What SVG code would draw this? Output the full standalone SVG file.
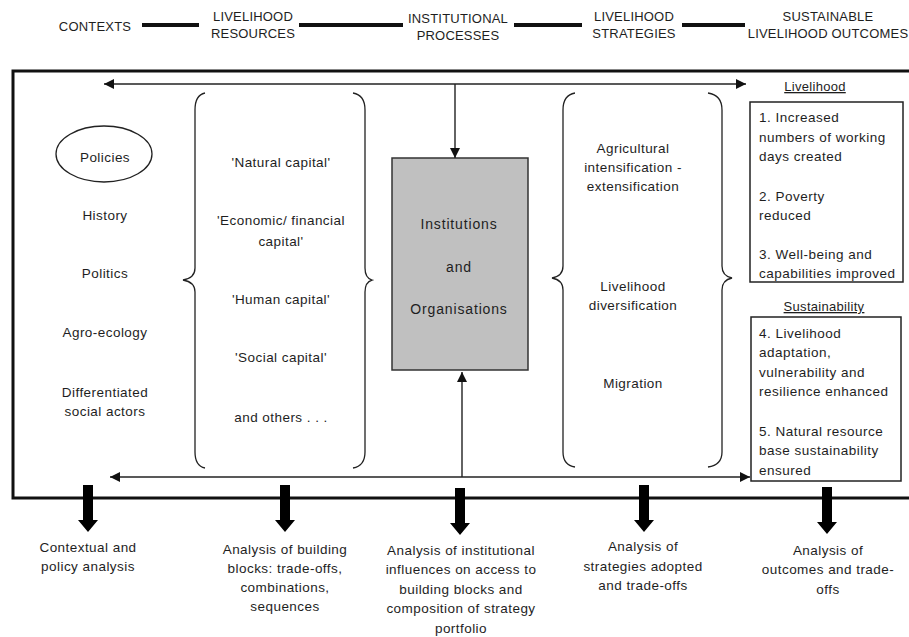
<svg xmlns="http://www.w3.org/2000/svg" xmlns:xlink="http://www.w3.org/1999/xlink" width="909" height="637" viewBox="0 0 909 637">
<style>
text{font-family:"Liberation Sans",Arial,sans-serif;fill:#1e1e1e;}
.h{font-size:13px;text-anchor:middle;letter-spacing:0.2px;}
.t{font-size:13.5px;text-anchor:middle;letter-spacing:0.45px;}
.b{font-size:13.5px;letter-spacing:0.5px;}
.u{font-size:13px;text-anchor:middle;text-decoration:underline;letter-spacing:0.3px;}
.i{font-size:14px;text-anchor:middle;letter-spacing:0.85px;}
.thin{stroke:#222;stroke-width:1.4;fill:none;}
.brace{stroke:#222;stroke-width:1.3;fill:none;}
.box{stroke:#222;stroke-width:1.5;fill:#fff;}
.bar{fill:#111;}
.big{fill:#000;}
</style>
<defs>
<marker id="ah" markerUnits="userSpaceOnUse" markerWidth="10" markerHeight="10" refX="10" refY="5" orient="auto-start-reverse">
<path d="M0,0 L10,5 L0,10 Z" fill="#111"/>
</marker>
<path id="bigArrow" d="M-5,0 H5 V35 H10 L0,47 L-10,35 H-5 Z"/>
</defs>
<rect width="909" height="637" fill="#fff"/>

<g id="header">
<text class="h" x="95" y="31">CONTEXTS</text>
<rect class="bar" x="142" y="23" width="57" height="4"/>
<text class="h" x="253" y="21">LIVELIHOOD</text>
<text class="h" x="253" y="38">RESOURCES</text>
<rect class="bar" x="299" y="23" width="104" height="4"/>
<text class="h" x="458" y="23">INSTITUTIONAL</text>
<text class="h" x="458" y="40">PROCESSES</text>
<rect class="bar" x="514" y="23" width="68" height="4"/>
<text class="h" x="634" y="21">LIVELIHOOD</text>
<text class="h" x="634" y="38">STRATEGIES</text>
<rect class="bar" x="682" y="23" width="63" height="4"/>
<text class="h" x="828" y="21">SUSTAINABLE</text>
<text class="h" x="828" y="38">LIVELIHOOD OUTCOMES</text>
</g>

<g id="frame">
<rect x="13" y="71" width="910" height="427" fill="none" stroke="#111" stroke-width="3"/>
</g>

<g id="contexts">
<ellipse cx="104" cy="154" rx="48" ry="28" fill="none" stroke="#222" stroke-width="1.3"/>
<text class="t" x="105" y="162">Policies</text>
<text class="t" x="105" y="220">History</text>
<text class="t" x="105" y="278">Politics</text>
<text class="t" x="105" y="337">Agro-ecology</text>
<text class="t" x="105" y="397">Differentiated</text>
<text class="t" x="105" y="416">social actors</text>
</g>

<g id="resources">
<path class="brace" d="M205,93 Q195,95 195,110 L195,268 Q195,278 183,280 Q195,282 195,292 L195,452 Q195,466 205,468"/>
<path class="brace" d="M353,93 Q365,95 365,110 L365,268 Q365,278 372,280 Q365,282 365,292 L365,452 Q365,466 353,468"/>
<text class="t" x="281" y="167">'Natural capital'</text>
<text class="t" x="281" y="225">'Economic/ financial</text>
<text class="t" x="281" y="246">capital'</text>
<text class="t" x="281" y="304">'Human capital'</text>
<text class="t" x="281" y="362">'Social capital'</text>
<text class="t" x="281" y="422">and others . . .</text>
</g>

<g id="institutions">
<rect x="392" y="158" width="136" height="212" fill="#c0c0c0" stroke="#333" stroke-width="1.5"/>
<text class="i" x="459" y="229">Institutions</text>
<text class="i" x="459" y="272">and</text>
<text class="i" x="459" y="314">Organisations</text>
</g>

<g id="strategies">
<path class="brace" d="M575,93 Q563,95 563,110 L563,266 Q563,276 552,278 Q563,280 563,290 L563,452 Q563,465 575,467"/>
<path class="brace" d="M708,93 Q722,95 722,110 L722,266 Q722,276 732,278 Q722,280 722,290 L722,452 Q722,465 708,467"/>
<text class="t" x="633" y="153">Agricultural</text>
<text class="t" x="633" y="172">intensification -</text>
<text class="t" x="633" y="191">extensification</text>
<text class="t" x="633" y="291">Livelihood</text>
<text class="t" x="633" y="310">diversification</text>
<text class="t" x="633" y="388">Migration</text>
</g>

<g id="outcomes-livelihood">
<text class="u" x="815" y="91">Livelihood</text>
<rect class="box" x="750" y="102" width="153" height="180"/>
<text class="b" x="759" y="122">1.  Increased</text>
<text class="b" x="759" y="142">numbers of working</text>
<text class="b" x="759" y="161">days created</text>
<text class="b" x="759" y="201">2.  Poverty</text>
<text class="b" x="759" y="220">reduced</text>
<text class="b" x="759" y="259">3.  Well-being and</text>
<text class="b" x="759" y="278">capabilities improved</text>
</g>

<g id="outcomes-sustainability">
<text class="u" x="824" y="311">Sustainability</text>
<rect class="box" x="751" y="317" width="150" height="164"/>
<text class="b" x="759" y="338">4.  Livelihood</text>
<text class="b" x="759" y="357">adaptation,</text>
<text class="b" x="759" y="377">vulnerability and</text>
<text class="b" x="759" y="396">resilience enhanced</text>
<text class="b" x="759" y="436">5.  Natural resource</text>
<text class="b" x="759" y="455">base sustainability</text>
<text class="b" x="759" y="475">ensured</text>
</g>

<g id="connectors">
<line class="thin" x1="104" y1="84" x2="746" y2="84" marker-start="url(#ah)" marker-end="url(#ah)"/>
<line class="thin" x1="455" y1="84" x2="455" y2="158" marker-end="url(#ah)"/>
<line class="thin" x1="110" y1="477" x2="750" y2="477" marker-start="url(#ah)" marker-end="url(#ah)"/>
<line class="thin" x1="462" y1="477" x2="462" y2="372" marker-end="url(#ah)"/>
<use xlink:href="#bigArrow" class="big" x="88" y="485"/>
<use xlink:href="#bigArrow" class="big" x="285" y="485"/>
<use xlink:href="#bigArrow" class="big" x="460" y="488"/>
<use xlink:href="#bigArrow" class="big" x="644" y="485"/>
<use xlink:href="#bigArrow" class="big" x="827" y="487"/>
</g>

<g id="analysis">
<text class="t" x="88" y="552">Contextual and</text>
<text class="t" x="88" y="571">policy analysis</text>
<text class="t" x="285" y="554">Analysis of building</text>
<text class="t" x="285" y="573">blocks: trade-offs,</text>
<text class="t" x="285" y="592">combinations,</text>
<text class="t" x="285" y="611">sequences</text>
<text class="t" x="461" y="555">Analysis of institutional</text>
<text class="t" x="461" y="574">influences on access to</text>
<text class="t" x="461" y="594">building blocks and</text>
<text class="t" x="461" y="613">composition of strategy</text>
<text class="t" x="461" y="633">portfolio</text>
<text class="t" x="643" y="551">Analysis of</text>
<text class="t" x="643" y="571">strategies adopted</text>
<text class="t" x="643" y="590">and trade-offs</text>
<text class="t" x="828" y="555">Analysis of</text>
<text class="t" x="828" y="574">outcomes and trade-</text>
<text class="t" x="828" y="594">offs</text>
</g>
</svg>
